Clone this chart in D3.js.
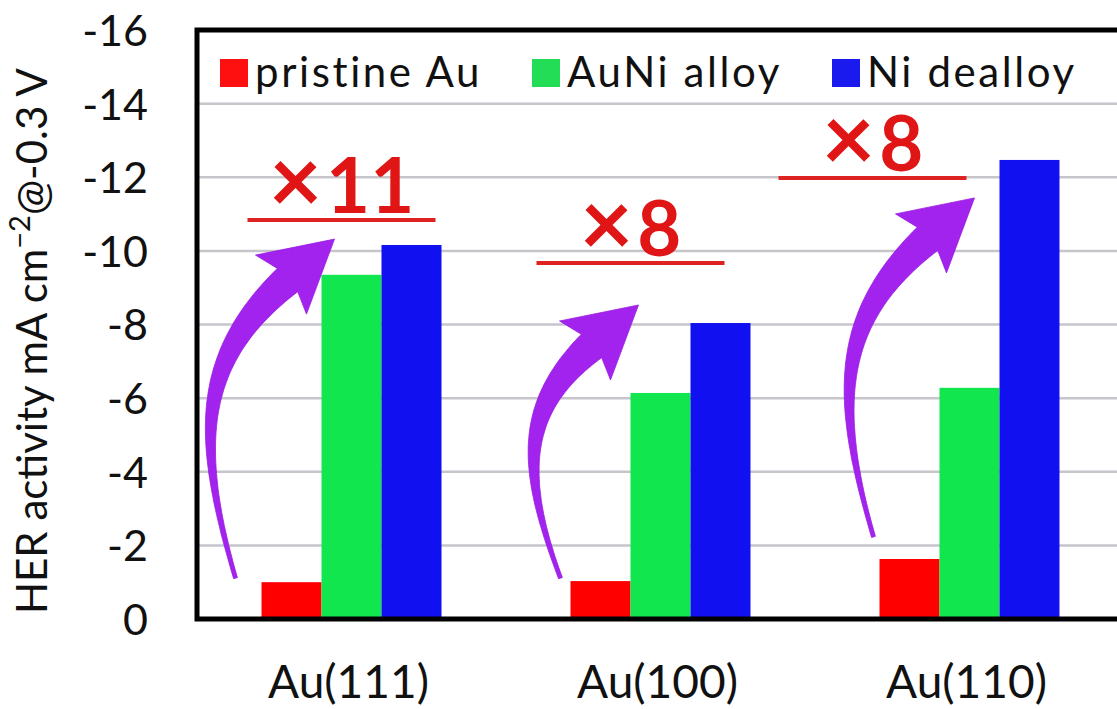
<!DOCTYPE html>
<html>
<head>
<meta charset="utf-8">
<script src="https://cdn.jsdelivr.net/npm/d3@7/dist/d3.min.js"></script>
<style>
  html, body { margin: 0; padding: 0; background: #fff; }
  svg { display: block; }
  text { font-family: Lato, "Open Sans", "DejaVu Sans", sans-serif; }
</style>
</head>
<body>
<svg id="chart" width="1117" height="709"></svg>
<script>
// ---- data ----
const categories = ["Au(111)", "Au(100)", "Au(110)"];
const seriesNames = ["pristine Au", "AuNi alloy", "Ni dealloy"];
const pristineAu = [-1.0, -1.03, -1.63];
const auNiAlloy = [-9.35, -6.14, -6.28];
const niDealloy = [-10.16, -8.04, -12.47];
const yTicks = [0, -2, -4, -6, -8, -10, -12, -14, -16];
const multipliers = ["×11", "×8", "×8"];
const multiplierLineValues = [-10.84, -9.67, -11.98];
const arrowTailValues = [-1.11, -1.11, -2.23];
const arrowTipValues = [-10.32, -8.53, -11.44];

// ---- styling / layout ----
const colors = ["#ff0000", "#12e64e", "#1010f0"];
const legendColors = ["#ff1010", "#22dd55", "#1a1aee"];
const plot = { left: 197, right: 1124, top: 30, bottom: 619 };
const multLineDx = [-10, -30, -97];      // px offset of annotation line centre from group centre
const arrowTailDx = [-116, -100, -96];
const arrowTipDx = [-17, -22, 5];

const svg = d3.select("#chart");

const x0 = d3.scaleBand().domain(categories).range([plot.left, plot.right])
  .paddingInner(0.4175).paddingOuter(0.4175 / 2);
const x1 = d3.scaleBand().domain(seriesNames).range([0, x0.bandwidth()]);
const y = d3.scaleLinear().domain([0, -16]).range([plot.bottom, plot.top]);

// gridlines
svg.append("g").selectAll("line")
  .data(yTicks.filter(d => d !== 0 && d !== -16))
  .join("line")
  .attr("x1", plot.left).attr("x2", plot.right)
  .attr("y1", d => y(d)).attr("y2", d => y(d))
  .attr("stroke", "#c6c5cc").attr("stroke-width", 2.5);

// bars
const series = [pristineAu, auNiAlloy, niDealloy];
const groups = svg.append("g").selectAll("g")
  .data(categories)
  .join("g")
  .attr("transform", d => `translate(${x0(d)},0)`);
groups.selectAll("rect")
  .data((d, i) => seriesNames.map((s, j) => ({ s, j, v: series[j][i] })))
  .join("rect")
  .attr("x", d => x1(d.s))
  .attr("width", x1.bandwidth())
  .attr("y", d => y(d.v))
  .attr("height", d => y(0) - y(d.v))
  .attr("fill", d => colors[d.j]);

// frame (left, top, bottom)
svg.append("path")
  .attr("d", `M${plot.right},${y(-16)} L${plot.left},${y(-16)} L${plot.left},${y(0)} L${plot.right},${y(0)}`)
  .attr("stroke", "#000").attr("stroke-width", 5).attr("fill", "none")
  .attr("stroke-linejoin", "miter");

// y axis tick labels
const yAxis = d3.axisLeft(y).tickValues(yTicks).tickSize(0).tickPadding(0)
  .tickFormat(d => String(d));
const yg = svg.append("g").attr("transform", `translate(148,0)`).call(yAxis);
yg.select(".domain").remove();
yg.selectAll("text")
  .attr("font-family", "Lato, 'Open Sans', sans-serif")
  .attr("font-size", 43).attr("fill", "#111").attr("dy", "0.36em");

// x axis category labels
const xAxis = d3.axisBottom(x0).tickSize(0).tickPadding(0);
const xg = svg.append("g").attr("transform", `translate(-3,698)`).call(xAxis);
xg.select(".domain").remove();
xg.selectAll("text")
  .attr("font-family", "Lato, 'Open Sans', sans-serif")
  .attr("font-size", 46).attr("fill", "#111").attr("dy", 0);

// y axis title
const yt = svg.append("text")
  .attr("transform", `translate(47,341) rotate(-90)`)
  .attr("text-anchor", "middle")
  .attr("font-size", 42).attr("fill", "#111");
yt.append("tspan").text("HER activity mA cm");
yt.append("tspan").attr("font-size", 29).attr("dy", -17).text("−2");
yt.append("tspan").attr("dy", 17).text("@-0.3 V");

// legend
const legendX = [220, 532, 832];
const lg = svg.append("g").selectAll("g").data(seriesNames).join("g")
  .attr("transform", (d, i) => `translate(${legendX[i]},59)`);
lg.append("rect").attr("width", 28).attr("height", 28).attr("fill", (d, i) => legendColors[i]);
lg.append("text").attr("x", 35).attr("y", 28)
  .attr("font-size", 42).attr("letter-spacing", 2.6).attr("fill", "#111").text(d => d);

// multiplier annotations
const cx = c => x0(c) + x0.bandwidth() / 2;
const ann = svg.append("g");
categories.forEach((c, i) => {
  const lx = cx(c) + multLineDx[i];
  const ly = y(multiplierLineValues[i]);
  ann.append("line")
    .attr("x1", lx - 94).attr("x2", lx + 94)
    .attr("y1", ly).attr("y2", ly)
    .attr("stroke", "#dd2222").attr("stroke-width", 4);
  const t = ann.append("text")
    .attr("x", lx).attr("y", ly - 7)
    .attr("text-anchor", "middle")
    .attr("fill", "#e01515").attr("font-weight", 700);
  t.append("tspan").attr("font-size", 92).text(multipliers[i].slice(0, 1));
  t.append("tspan").attr("font-size", 76).attr("dx", 4).text(multipliers[i].slice(1));
});

// curved purple arrows
function arrowPath(T, tip) {
  const Bm = [tip[0] - 47, tip[1] + 41];
  let dx = tip[0] - Bm[0], dy = tip[1] - Bm[1];
  const L = Math.hypot(dx, dy); dx /= L; dy /= L;
  const Hh = T[1] - Bm[1];
  const P1 = [T[0] - 40, T[1] - 0.46 * Hh];
  const P2 = [Bm[0] - dx * 0.4 * Hh, Bm[1] - dy * 0.4 * Hh];
  const N = 60;
  const left = [], right = [];
  for (let k = 0; k <= N; k++) {
    const t = k / N, u = 1 - t;
    const px = u*u*u*T[0] + 3*u*u*t*P1[0] + 3*u*t*t*P2[0] + t*t*t*Bm[0];
    const py = u*u*u*T[1] + 3*u*u*t*P1[1] + 3*u*t*t*P2[1] + t*t*t*Bm[1];
    let tx = 3*u*u*(P1[0]-T[0]) + 6*u*t*(P2[0]-P1[0]) + 3*t*t*(Bm[0]-P2[0]);
    let ty = 3*u*u*(P1[1]-T[1]) + 6*u*t*(P2[1]-P1[1]) + 3*t*t*(Bm[1]-P2[1]);
    const tl = Math.hypot(tx, ty); tx /= tl; ty /= tl;
    const nx = -ty, ny = tx;
    const w = (4 + 27 * Math.pow(t, 1.6)) / 2;
    left.push([px - nx * w, py - ny * w]);
    right.push([px + nx * w, py + ny * w]);
  }
  const pts = left.concat([[tip[0] - 79, tip[1] + 16], tip, [tip[0] - 28, tip[1] + 75]], right.reverse());
  return "M" + pts.map(p => p[0].toFixed(1) + "," + p[1].toFixed(1)).join("L") + "Z";
}
svg.append("g").selectAll("path").data(categories).join("path")
  .attr("d", (c, i) => arrowPath(
    [cx(c) + arrowTailDx[i], y(arrowTailValues[i])],
    [cx(c) + arrowTipDx[i], y(arrowTipValues[i])]))
  .attr("fill", "#a222ee").attr("stroke", "#9a1ee0").attr("stroke-width", 0.8);
</script>
</body>
</html>
